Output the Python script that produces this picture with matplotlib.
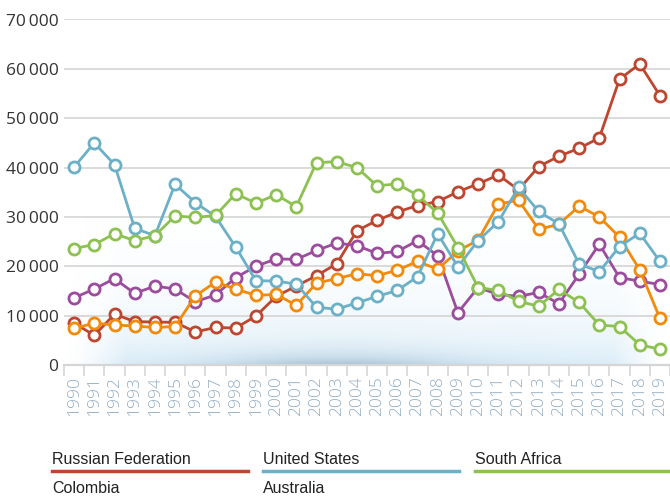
import numpy as np
import matplotlib
matplotlib.use("Agg")
import matplotlib.pyplot as plt
from matplotlib.lines import Line2D
from matplotlib.ticker import FuncFormatter, FixedLocator

years = list(range(1990, 2020))

russia = [8500, 6000, 10300, 8800, 8700, 8650, 6700, 7600, 7500, 9900,
          13900, 16000, 18100, 20500, 27200, 29300, 31000, 32300, 33100, 35100,
          36700, 38500, 35500, 40200, 42300, 43900, 46000, 57900, 61000, 54600]
united_states = [40100, 45000, 40600, 27700, 26200, 36600, 32900, 30100, 23900, 17100,
                 17000, 16400, 11700, 11300, 12600, 13900, 15100, 17900, 26600, 19900,
                 25200, 29000, 36000, 31100, 28600, 20500, 18900, 24000, 26700, 21000]
south_africa = [23600, 24400, 26600, 25200, 26200, 30200, 29900, 30300, 34700, 32800,
                34500, 32100, 41000, 41200, 40000, 36300, 36700, 34400, 30800, 23800,
                15700, 15100, 12900, 11900, 15300, 12700, 8100, 7800, 4100, 3200]
colombia = [7400, 8500, 8100, 7900, 7600, 7800, 14000, 16800, 15400, 14100,
            14300, 12100, 16600, 17500, 18500, 18100, 19200, 21000, 19400, 23100,
            25300, 32600, 33400, 27500, 28500, 32200, 30000, 25900, 19300, 9500]
australia = [13600, 15400, 17500, 14500, 16000, 15400, 12800, 14200, 17700, 20000,
             21500, 21400, 23200, 24700, 24200, 22600, 23000, 25200, 22100, 10600,
             15700, 14300, 13900, 14700, 12400, 18400, 24500, 17700, 17000, 16300]

names = ["Russian Federation", "United States", "South Africa", "Colombia", "Australia"]
colors = {"Russian Federation": "#bd4630", "United States": "#6cb0c8",
          "South Africa": "#8dc152", "Colombia": "#f28a0c", "Australia": "#9c4c9d"}
series = {"Russian Federation": russia, "United States": united_states,
          "South Africa": south_africa, "Colombia": colombia, "Australia": australia}
# drawing order, bottom to top
draw_order = ["Russian Federation", "Australia", "Colombia", "United States", "South Africa"]

fig = plt.figure(figsize=(6.7, 4.98), dpi=100)
ax = fig.add_axes([64 / 670, 1 - 365 / 498, 606 / 670, 345.5 / 498])

x = np.arange(len(years))
ax.set_xlim(-0.5, len(years) - 0.5)
ax.set_ylim(0, 70000)

# soft blue glow along the bottom of the plot
h, w = 200, 400
gy = np.linspace(0, 1, h)[:, None]           # 0 = bottom
gx = np.linspace(0, 1, w)[None, :]
vert = np.exp(-gy / 0.3)
horiz = np.clip(gx / 0.1, 0, 1) ** 1.5 * np.clip((1 - gx) / 0.09, 0, 1) ** 1.5
alpha = 0.5 * vert * horiz
dark = np.exp(-gy / 0.09) * np.exp(-((gx - 0.45) / 0.22) ** 2)
rgba = np.zeros((h, w, 4))
light = np.array([0.72, 0.86, 0.95])
slate = np.array([0.58, 0.70, 0.79])
mix = np.clip(dark, 0, 1)[..., None]
rgba[..., :3] = light * (1 - mix) + slate * mix
rgba[..., 3] = np.clip(alpha + 0.3 * dark, 0, 1)
ax.imshow(rgba, origin="lower", extent=(-0.5, len(years) - 0.5, 0, 30000),
          aspect="auto", zorder=0, interpolation="bilinear")

for name in draw_order:
    ax.plot(x, series[name], color=colors[name], lw=2.0, marker="o", ms=8,
            mfc="white", mec=colors[name], mew=2.0, zorder=3 + draw_order.index(name))

# grid and axes
ax.yaxis.set_major_locator(FixedLocator(range(0, 70001, 10000)))
ax.yaxis.set_major_formatter(FuncFormatter(
    lambda v, p: "0" if v == 0 else f"{int(v) // 1000}\u2009000"))
ax.grid(axis="y", color="#dadada", lw=1.4, zorder=1)
ax.set_axisbelow(True)
for s in ["top", "right", "left"]:
    ax.spines[s].set_visible(False)
ax.spines["bottom"].set_color("#d5d5d5")
ax.spines["bottom"].set_linewidth(1.6)

ax.set_xticks(x)
ax.set_xticklabels([str(y) for y in years], rotation=90, color="#93adc2",
                   fontsize=12.5, fontweight="light", family=["Open Sans", "DejaVu Sans"])
ax.set_xticks(np.arange(-0.5, len(years), 1), minor=True)
ax.tick_params(axis="x", which="major", length=0, pad=8)
ax.tick_params(axis="x", which="minor", length=8, color="#d5d5d5", width=1.2)
ax.tick_params(axis="y", length=0, pad=4, labelsize=12.5, labelcolor="#333333")
for lab in ax.get_yticklabels():
    lab.set_family(["Open Sans", "DejaVu Sans"])

# legend, three per row, with a coloured bar under each name
legend_font = ["Liberation Sans", "DejaVu Sans"]
col_x = [52, 263, 475]
row_y = [459, 488]
for i, name in enumerate(names):
    cx = col_x[i % 3]
    ty = row_y[i // 3]
    fig.text(cx / 670, 1 - ty / 498, name, fontsize=11.5, color="#222222",
             family=legend_font, va="center", ha="left")
    ly = 1 - (ty + 12) / 498
    fig.add_artist(Line2D([cx / 670, (cx + 196) / 670], [ly, ly],
                          color=colors[name], lw=2.5, transform=fig.transFigure))

fig.savefig("out.png", dpi=100)
